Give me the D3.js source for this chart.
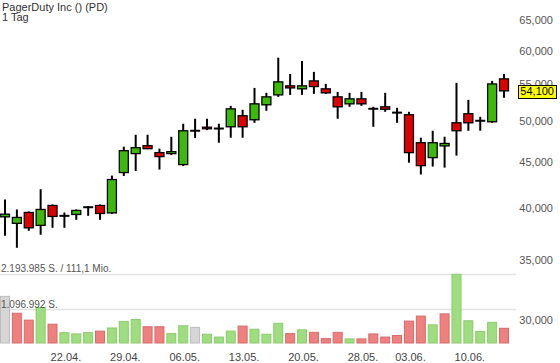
<!DOCTYPE html>
<html><head><meta charset="utf-8">
<script src="https://cdn.jsdelivr.net/npm/d3@7/dist/d3.min.js"></script>
<style>
body{margin:0;background:#fff;}
svg{display:block;font-family:"Liberation Sans",Arial,sans-serif;}
</style></head>
<body><svg id="c" width="560" height="363"></svg>
<script>
const dates = ["12.04.","15.04.","16.04.","17.04.","18.04.","22.04.","23.04.","24.04.","25.04.","26.04.",
"29.04.","30.04.","01.05.","02.05.","03.05.","06.05.","07.05.","08.05.","09.05.","10.05.",
"13.05.","14.05.","15.05.","16.05.","17.05.","20.05.","21.05.","22.05.","23.05.","24.05.",
"28.05.","29.05.","30.05.","31.05.","03.06.","04.06.","05.06.","06.06.","07.06.","10.06.",
"11.06.","12.06.","13.06."];
const open  = [39120,38470,39560,38270,40280,39200,39360,40080,40280,39520,
43840,46030,46980,46150,46030,44750,48820,49270,49080,49320,
50740,50220,52190,53540,54800,54380,55500,54380,53270,52320,
53000,51660,51920,51150,50870,47340,45560,46950,49830,51000,
50070,49960,55790];
const high  = [40900,39870,39670,42000,40390,39560,39870,40210,40390,43500,
46860,48320,48320,46620,48070,49710,50350,50350,49710,52050,
51520,54510,53820,58920,56500,58420,56800,55070,53950,53820,
53950,51920,53820,51790,51260,47950,48820,48070,55220,52860,
50600,55500,56500];
const low   = [37260,36130,37740,37360,38030,38030,38820,39220,38820,39420,
43460,44020,46570,44180,45860,44590,47900,48900,47340,47950,
47950,49830,51390,53270,53540,53540,53680,53680,50350,51920,
52050,49320,51260,49830,44970,43620,44520,44400,45790,48820,
48820,49830,53130];
const close = [39390,39060,38030,39870,39160,39220,39770,40100,39460,43060,
46380,46740,46620,45680,46260,48820,48820,49070,49100,51650,
49320,52320,53270,55360,54510,54800,54700,53820,51920,53000,
52320,51650,51600,51130,46150,44630,47340,47250,48820,49830,
50090,55070,54100];
const volume = [1490000,950000,730000,1140000,600000,330000,290000,330000,380000,480000,
690000,750000,520000,520000,300000,550000,500000,280000,190000,380000,
540000,440000,280000,630000,300000,420000,340000,140000,340000,130000,
130000,290000,190000,240000,700000,860000,580000,930000,2193985,710000,
370000,660000,470000];
const dateTicks = ["22.04.","29.04.","06.05.","13.05.","20.05.","28.05.","03.06.","10.06."];
const priceTicks = [30000,35000,40000,45000,50000,55000,60000,65000];
const title = "PagerDuty Inc () (PD)";
const subtitle = "1 Tag";
const volMaxLabel = "2.193.985 S. / 111,1 Mio.";
const volMidLabel = "1.096.992 S.";
const lastLabel = "54,100";

const svg = d3.select("#c");
const x = d3.scalePoint().domain(dates).range([5, 504]);
const y = d3.scaleLog().domain([30000, 65000]).range([320, 19.5]);
const vMax = d3.max(volume);
const yv = d3.scaleLinear().domain([0, vMax]).range([343, 274.3]);
const fmt = d3.format(",");

// volume grid lines
svg.append("g").selectAll("line").data([vMax, vMax/2]).join("line")
  .attr("x1", 0).attr("x2", 516)
  .attr("y1", d => Math.round(yv(d)) + 0.5).attr("y2", d => Math.round(yv(d)) + 0.5)
  .attr("stroke", "#e2e2e2").attr("stroke-width", 1.5);

// volume bars
const volDir = volume.map((v, i) => i === 0 ? 0 : Math.sign(close[i] - close[i-1]));
const vFill = d => d > 0 ? "#9edd80" : d < 0 ? "#ef8080" : "#d6d6d6";
const vStroke = d => d > 0 ? "#8ccb6e" : d < 0 ? "#d86a6a" : "#bdbdbd";
svg.append("g").selectAll("rect").data(volume).join("rect")
  .attr("x", (d, i) => x(dates[i]) - 4.5)
  .attr("width", 9)
  .attr("y", d => yv(d))
  .attr("height", d => yv(0) - yv(d))
  .attr("fill", (d, i) => vFill(volDir[i]))
  .attr("stroke", (d, i) => vStroke(volDir[i]))
  .attr("stroke-width", 1);

// volume labels
svg.append("text").attr("x", 1).attr("y", 271.5).attr("font-size", 10).attr("fill", "#555").text(volMaxLabel);
svg.append("text").attr("x", 1).attr("y", 307.5).attr("font-size", 10).attr("fill", "#555").text(volMidLabel);

// candles
const cg = svg.append("g").selectAll("g").data(dates).join("g");
cg.append("line")
  .attr("x1", d => x(d)).attr("x2", d => x(d))
  .attr("y1", (d, i) => y(high[i])).attr("y2", (d, i) => y(low[i]))
  .attr("stroke", "#000").attr("stroke-width", 2);
cg.each(function(d, i) {
  const g = d3.select(this);
  const yo = y(open[i]), yc = y(close[i]);
  const top = Math.min(yo, yc), h = Math.abs(yo - yc);
  if (h < 1.2) {
    g.append("line").attr("x1", x(d) - 5).attr("x2", x(d) + 5)
      .attr("y1", top).attr("y2", top).attr("stroke", "#000").attr("stroke-width", 2);
  } else {
    g.append("rect").attr("x", x(d) - 4.5).attr("width", 9)
      .attr("y", top).attr("height", h)
      .attr("fill", close[i] >= open[i] ? "#3cb90b" : "#dd0000")
      .attr("stroke", "#000").attr("stroke-width", 1.3);
  }
});

// price axis
const ya = svg.append("g").attr("transform", "translate(553,0)")
  .call(d3.axisRight(y).tickValues(priceTicks).tickFormat(fmt).tickSize(0));
ya.select(".domain").remove();
ya.selectAll("text").attr("x", 0).attr("text-anchor", "end")
  .attr("font-family", "Liberation Sans, Arial, sans-serif").attr("font-size", 11).attr("fill", "#555");

// last price box
const lp = close[close.length - 1];
svg.append("rect").attr("x", 518.5).attr("y", Math.round(y(lp)) - 5.5).attr("width", 38).attr("height", 13)
  .attr("fill", "#ffff00").attr("stroke", "#000").attr("stroke-width", 1);
svg.append("text").attr("x", 554).attr("y", y(lp)).attr("dy", "0.36em").attr("text-anchor", "end")
  .attr("font-size", 11).attr("fill", "#000").text(lastLabel);

// date axis
const xa = svg.append("g").attr("transform", "translate(1,350)")
  .call(d3.axisBottom(x).tickValues(dateTicks).tickSize(0));
xa.select(".domain").remove();
xa.selectAll("text").attr("font-family", "Liberation Sans, Arial, sans-serif").attr("font-size", 11).attr("fill", "#444");

// title
svg.append("text").attr("x", 2).attr("y", 10.5).attr("font-size", 11).attr("fill", "#333").text(title);
svg.append("text").attr("x", 2).attr("y", 20.5).attr("font-size", 11).attr("fill", "#333").text(subtitle);
</script></body></html>
